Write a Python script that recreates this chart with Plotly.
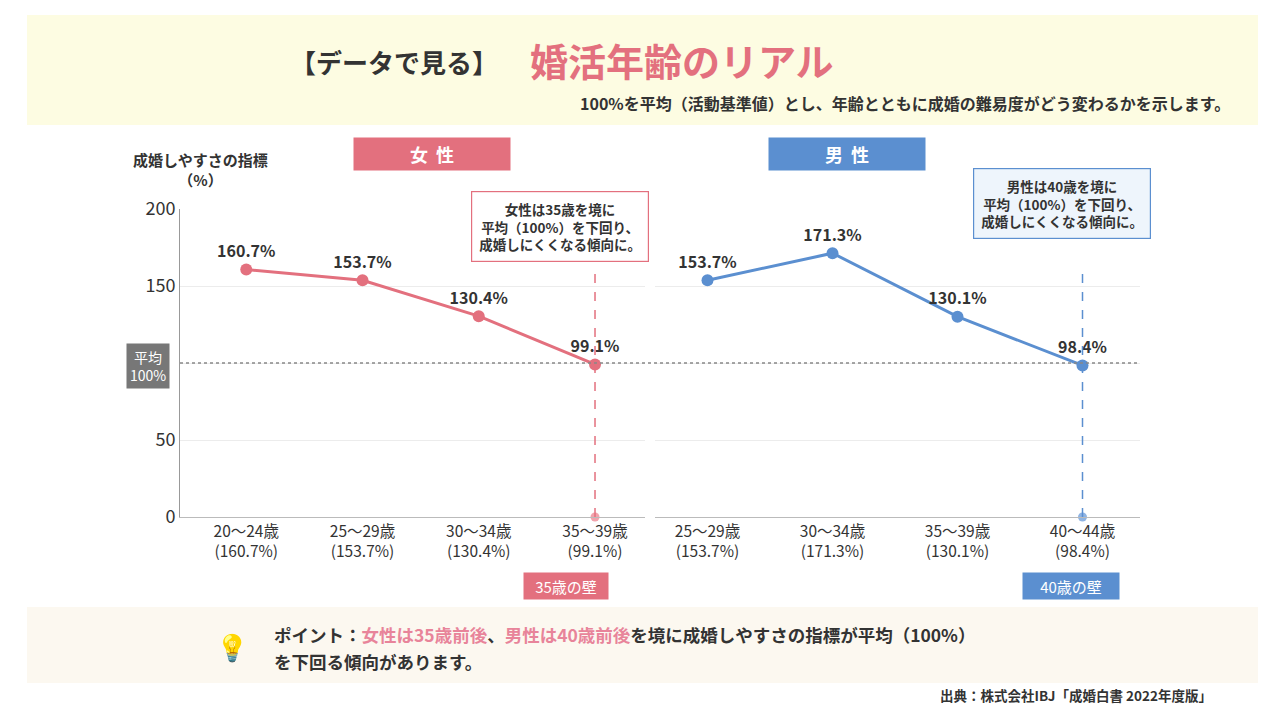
import plotly.graph_objects as go

f_cats = ["20～24歳", "25～29歳", "30～34歳", "35～39歳"]
f_vals = [160.7, 153.7, 130.4, 99.1]
m_cats = ["25～29歳", "30～34歳", "35～39歳", "40～44歳"]
m_vals = [153.7, 171.3, 130.1, 98.4]
y_ticks = [0, 50, 100, 150, 200]
y_ticktext = ["0", "50", "", "150", "200"]

PINK = "#E3707E"
BLUE = "#5B8FD0"
FONT = "Noto Sans CJK JP"
W, H = 1280, 720
OFF = 8
def px(x): return (x - OFF) / W
def py(y): return 1 - (y - OFF) / H

fig = go.Figure()
fig.add_trace(go.Scatter(x=f_cats, y=f_vals, mode="lines+markers+text",
    line=dict(color=PINK, width=3), marker=dict(size=12, color=PINK),
    text=[f"<b>{v}%</b>" for v in f_vals], textposition="top center",
    textfont=dict(size=16, color="#333", family=FONT), cliponaxis=False,
    xaxis="x", yaxis="y", showlegend=False))
fig.add_trace(go.Scatter(x=m_cats, y=m_vals, mode="lines+markers+text",
    line=dict(color=BLUE, width=3), marker=dict(size=12, color=BLUE),
    text=[f"<b>{v}%</b>" for v in m_vals], textposition="top center",
    textfont=dict(size=16, color="#333", family=FONT), cliponaxis=False,
    xaxis="x2", yaxis="y2", showlegend=False))
fig.add_trace(go.Scatter(x=[f_cats[-1]], y=[0], mode="markers",
    marker=dict(size=9, color="#F2A3AC"), xaxis="x", yaxis="y", showlegend=False, cliponaxis=False))
fig.add_trace(go.Scatter(x=[m_cats[-1]], y=[0], mode="markers",
    marker=dict(size=9, color="#8FB4E3"), xaxis="x2", yaxis="y2", showlegend=False, cliponaxis=False))

ydom = [py(517), py(209)]
f_tt = [f"{c}<br>({v}%)" for c, v in zip(f_cats, f_vals)]
m_tt = [f"{c}<br>({v}%)" for c, v in zip(m_cats, m_vals)]
common_x = dict(showgrid=False, zeroline=False, showline=True, linecolor="#BBBBBB",
                tickfont=dict(size=15.5, color="#333", family=FONT), ticks="")
fig.update_layout(
    width=W, height=H, margin=dict(l=0, r=0, t=0, b=0, autoexpand=False),
    paper_bgcolor="white", plot_bgcolor="rgba(0,0,0,0)",
    font=dict(family=FONT),
    xaxis=dict(domain=[px(180), px(645)], type="category", range=[-0.57, 3.43],
               tickvals=f_cats, ticktext=f_tt, **common_x),
    xaxis2=dict(domain=[px(655), px(1140)], type="category", range=[-0.42, 3.46],
                tickvals=m_cats, ticktext=m_tt, **common_x),
    yaxis=dict(domain=ydom, range=[0, 200], tickvals=y_ticks, ticktext=y_ticktext,
               showgrid=True, gridcolor="#ECECEC", zeroline=False, showline=True,
               linecolor="#999999", ticks="", tickfont=dict(size=18, color="#333", family=FONT)),
    yaxis2=dict(domain=ydom, range=[0, 200], tickvals=y_ticks, showticklabels=False,
                showgrid=True, gridcolor="#ECECEC", zeroline=False, showline=False, anchor="x2"),
)

shapes = []
shapes.append(dict(type="rect", xref="paper", yref="paper", x0=px(27), x1=px(1258),
                   y0=py(125), y1=py(15), fillcolor="#FDFCE2", line_width=0, layer="below"))
shapes.append(dict(type="rect", xref="paper", yref="paper", x0=px(27), x1=px(1258),
                   y0=py(683), y1=py(607), fillcolor="#FCF8F0", line_width=0, layer="below"))
shapes.append(dict(type="line", xref="paper", yref="y", x0=px(180), x1=px(1140), y0=100, y1=100,
                   line=dict(color="#888", width=1.5, dash="dot")))
shapes.append(dict(type="line", xref="x", yref="y", x0=f_cats[-1], x1=f_cats[-1], y0=0, y1=163,
                   line=dict(color=PINK, width=1.5, dash="dash")))
shapes.append(dict(type="line", xref="x2", yref="y2", x0=m_cats[-1], x1=m_cats[-1], y0=0, y1=163,
                   line=dict(color=BLUE, width=1.5, dash="dash")))
fig.update_layout(shapes=shapes)

ann = []
def A(x, y, text, size, color="#333", **kw):
    d = dict(xref="paper", yref="paper", x=px(x), y=py(y), text=text, showarrow=False,
             xanchor="center", yanchor="middle", font=dict(size=size, color=color, family=FONT))
    d.update(kw)
    ann.append(d)

A(500, 62, "<b>【データで見る】</b>", 26, "#333", xanchor="right")
A(528, 60, "<b>婚活年齢のリアル</b>", 38, PINK, xanchor="left")
A(1232, 103, "<b>100%を平均（活動基準値）とし、年齢とともに成婚の難易度がどう変わるかを示します。</b>", 16, "#333", xanchor="right")
A(200, 170, "<b>成婚しやすさの指標<br>（%）</b>", 15, "#333")
A(432, 154, "<b>女  性</b>", 18, "white", bgcolor=PINK, width=150, height=26, borderpad=3)
A(847, 154, "<b>男  性</b>", 18, "white", bgcolor=BLUE, width=150, height=26, borderpad=3)
A(148, 366, "平均<br>100%", 14, "white", bgcolor="#777777", borderpad=3)
A(560, 226, "<b>女性は35歳を境に<br>平均（100%）を下回り、<br>成婚しにくくなる傾向に。</b>", 13.5, "#333",
  bgcolor="white", bordercolor=PINK, borderwidth=1.2, borderpad=7)
A(1062, 204, "<b>男性は40歳を境に<br>平均（100%）を下回り、<br>成婚しにくくなる傾向に。</b>", 13.5, "#333",
  bgcolor="#EEF5FC", bordercolor=BLUE, borderwidth=1.2, borderpad=7)
A(566, 586, "35歳の壁", 15, "white", bgcolor=PINK, width=78, height=20, borderpad=3)
A(1071, 586, "40歳の壁", 15, "white", bgcolor=BLUE, width=90, height=20, borderpad=3)
A(232, 645, "💡", 26, PINK)
A(272, 634, "<b>ポイント：<span style='color:#E8849A'>女性は35歳前後</span>、<span style='color:#E8849A'>男性は40歳前後</span>を境に成婚しやすさの指標が平均（100%）</b>",
  17.5, "#333", xanchor="left")
A(272, 661, "<b>を下回る傾向があります。</b>", 17.5, "#333", xanchor="left")
A(1214, 695, "<b>出典：株式会社IBJ「成婚白書 2022年度版」</b>", 13.5, "#333", xanchor="right")
fig.update_layout(annotations=ann)

fig.write_html("out.html")
